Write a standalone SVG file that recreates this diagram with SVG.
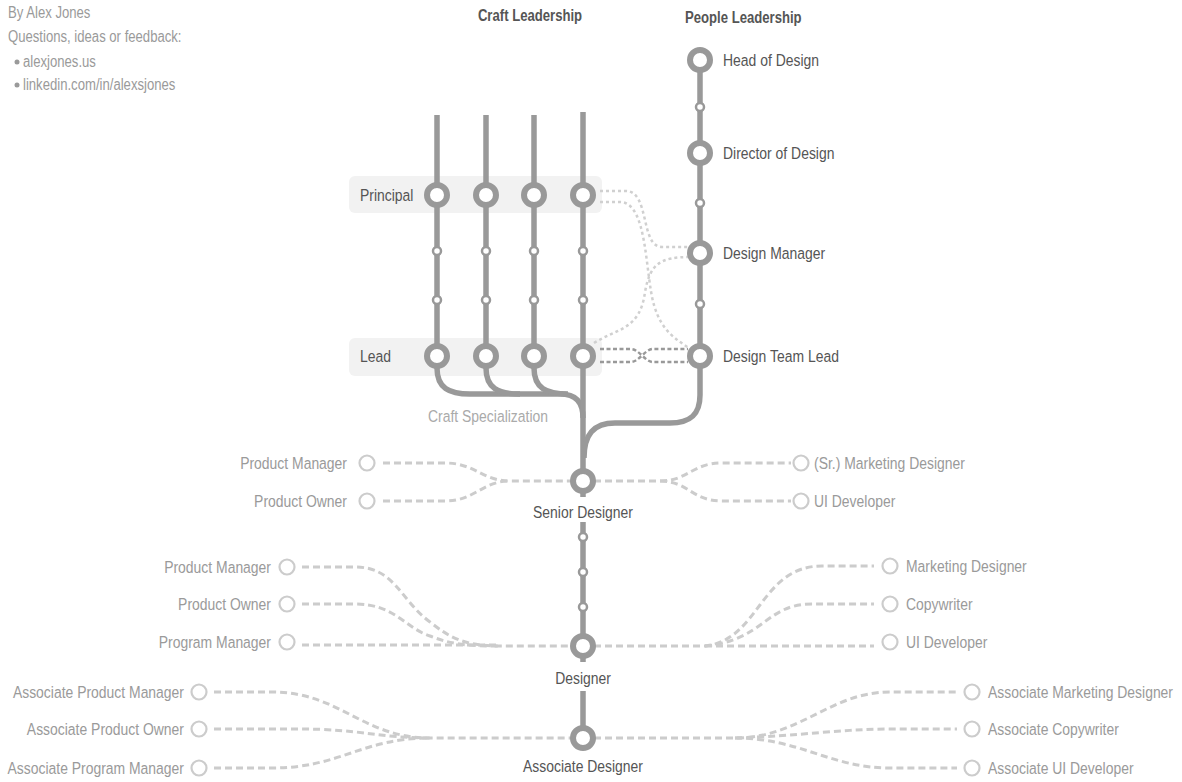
<svg xmlns="http://www.w3.org/2000/svg" width="1182" height="782" viewBox="0 0 1182 782">
  <style>
    text { font-family: "Liberation Sans", Arial, sans-serif; font-size: 17px; }
    .info { fill: #9a9a9a; font-size: 16px; }
    .head { fill: #555; font-weight: bold; font-size: 16px; }
    .lbl { fill: #555; }
    .side { fill: #9a9a9a; }
    .note { fill: #aaa; }
    .track { fill: none; stroke: #999; stroke-width: 5.5; }
    .stop { fill: #fff; stroke: #999; stroke-width: 6; }
    .tick { fill: #fff; stroke: #999; stroke-width: 2.5; }
    .alt { fill: #fff; stroke: #ccc; stroke-width: 2.2; }
    .band { fill: #f2f2f2; }
    .dash { fill: none; stroke: #ccc; stroke-width: 3; stroke-dasharray: 7 4; }
    .dot { fill: none; stroke: #d0d0d0; stroke-width: 2.5; stroke-dasharray: 3 3; }
    .dotdark { fill: none; stroke: #999; stroke-width: 2.5; stroke-dasharray: 4 2.5; }
  </style>

  <!-- credits (text is horizontally condensed with a matrix: x scale .82, then shift) -->
  <g id="credits">
    <text class="info" x="0" y="18" transform="matrix(.82 0 0 1 8 0)">By Alex Jones</text>
    <text class="info" x="0" y="42" transform="matrix(.82 0 0 1 8 0)">Questions, ideas or feedback:</text>
    <circle cx="17" cy="62" r="2.5" fill="#9a9a9a"/>
    <text class="info" x="0" y="67" transform="matrix(.82 0 0 1 23 0)">alexjones.us</text>
    <circle cx="17" cy="85" r="2.5" fill="#9a9a9a"/>
    <text class="info" x="0" y="90" transform="matrix(.82 0 0 1 23 0)">linkedin.com/in/alexsjones</text>
  </g>

  <g id="headers">
    <text class="head" x="0" y="21" text-anchor="middle" transform="matrix(.82 0 0 1 530 0)">Craft Leadership</text>
    <text class="head" x="0" y="23" transform="matrix(.82 0 0 1 685 0)">People Leadership</text>
  </g>

  <!-- row highlight bands -->
  <rect class="band" x="349" y="176" width="253" height="37" rx="6"/>
  <rect class="band" x="349" y="338" width="253" height="38" rx="6"/>

  <!-- connectors -->
  <g id="connectors">
    <!-- craft tracks -->
    <path class="track" d="M437,115 V356 V368 C437,388 449,394 470,394 H560 C576,394 583,402 583,418"/>
    <path class="track" d="M486,115 V368 C486,388 498,394 520,394"/>
    <path class="track" d="M534,115 V368 C534,388 546,394 568,394"/>
    <path class="track" d="M583,112 V497"/>
    <!-- people track -->
    <path class="track" d="M700,60 V395 C700,415 690,423 670,423 H615 C593,423 584,435 584,458"/>
    <!-- senior to designer -->
    <path class="track" d="M583,522 V662"/>
    <path class="track" d="M583,691 V738"/>

    <!-- craft / people transfers -->
    <path class="dot" d="M600,191 H626 C650,191 640,247 662,247 H689"/>
    <path class="dot" d="M600,202 H620 C648,202 645,275 654,305 C662,333 678,340 690,349"/>
    <path class="dot" d="M594,343 C618,328 640,330 645,292 C650,264 660,257 690,257"/>
    <path class="dotdark" d="M600,349 H631 C639,349 645,362 653,362 H688"/>
    <path class="dotdark" d="M600,362 H631 C639,362 645,349 653,349 H688"/>

    <!-- senior designer lateral -->
    <path class="dash" d="M383,463 H445 C475,463 482,481 510,481 H572"/>
    <path class="dash" d="M383,501 H445 C475,501 482,481 510,481"/>
    <path class="dash" d="M594,481 H660 C688,481 692,463 722,463 H791"/>
    <path class="dash" d="M660,481 C688,481 692,501 722,501 H791"/>

    <!-- designer lateral -->
    <path class="dash" d="M302,567 H355 C395,567 400,600 430,622 C450,638 465,646 500,646 H572"/>
    <path class="dash" d="M302,604 H355 C395,604 405,628 430,636 C450,644 465,646 500,646"/>
    <path class="dash" d="M302,645 H500"/>
    <path class="dash" d="M594,646 H705 C760,640 760,566 822,566 H874"/>
    <path class="dash" d="M705,646 C765,640 765,604 812,604 H874"/>
    <path class="dash" d="M705,646 H874"/>

    <!-- associate lateral -->
    <path class="dash" d="M214,692 H272 C340,692 362,738 430,738 H572"/>
    <path class="dash" d="M214,729 H300 C360,729 380,738 430,738"/>
    <path class="dash" d="M214,768 H272 C340,768 362,738 430,738"/>
    <path class="dash" d="M594,738 H735 C800,738 830,692 890,692 H957"/>
    <path class="dash" d="M735,738 C800,736 840,729 890,729 H957"/>
    <path class="dash" d="M735,738 C800,738 830,768 890,768 H957"/>
  </g>

  <!-- craft leadership ladder -->
  <g id="principal">
    <text class="lbl" x="0" y="201" transform="matrix(.82 0 0 1 360 0)">Principal</text>
    <circle class="stop" cx="437" cy="195" r="10"/>
    <circle class="stop" cx="486" cy="195" r="10"/>
    <circle class="stop" cx="534" cy="195" r="10"/>
    <circle class="stop" cx="583" cy="195" r="10"/>
  </g>
  <g id="craft-steps">
    <circle class="tick" cx="437" cy="251" r="4"/>
    <circle class="tick" cx="486" cy="251" r="4"/>
    <circle class="tick" cx="534" cy="251" r="4"/>
    <circle class="tick" cx="583" cy="251" r="4"/>
    <circle class="tick" cx="437" cy="300" r="4"/>
    <circle class="tick" cx="486" cy="300" r="4"/>
    <circle class="tick" cx="534" cy="300" r="4"/>
    <circle class="tick" cx="583" cy="300" r="4"/>
  </g>
  <g id="lead">
    <text class="lbl" x="0" y="362" transform="matrix(.82 0 0 1 360 0)">Lead</text>
    <circle class="stop" cx="437" cy="356" r="10"/>
    <circle class="stop" cx="486" cy="356" r="10"/>
    <circle class="stop" cx="534" cy="356" r="10"/>
    <circle class="stop" cx="583" cy="356" r="10"/>
  </g>
  <text class="note" x="0" y="422" transform="matrix(.82 0 0 1 428 0)">Craft Specialization</text>

  <!-- people leadership ladder -->
  <g id="head-of-design">
    <circle class="stop" cx="700" cy="60" r="10"/>
    <text class="lbl" x="0" y="66" transform="matrix(.82 0 0 1 723 0)">Head of Design</text>
  </g>
  <circle class="tick" cx="700" cy="107" r="4"/>
  <g id="director-of-design">
    <circle class="stop" cx="700" cy="153" r="10"/>
    <text class="lbl" x="0" y="159" transform="matrix(.82 0 0 1 723 0)">Director of Design</text>
  </g>
  <circle class="tick" cx="700" cy="203" r="4"/>
  <g id="design-manager">
    <circle class="stop" cx="700" cy="253" r="10"/>
    <text class="lbl" x="0" y="259" transform="matrix(.82 0 0 1 723 0)">Design Manager</text>
  </g>
  <circle class="tick" cx="700" cy="304" r="4"/>
  <g id="design-team-lead">
    <circle class="stop" cx="700" cy="356" r="10"/>
    <text class="lbl" x="0" y="362" transform="matrix(.82 0 0 1 723 0)">Design Team Lead</text>
  </g>

  <!-- senior designer -->
  <g id="senior-designer">
    <circle class="stop" cx="583" cy="481" r="10"/>
    <text class="lbl" x="0" y="518" text-anchor="middle" transform="matrix(.82 0 0 1 583 0)">Senior Designer</text>
  </g>
  <g id="senior-alternatives">
    <circle class="alt" cx="367" cy="463" r="7.5"/>
    <text class="side" x="0" y="469" text-anchor="end" transform="matrix(.82 0 0 1 347 0)">Product Manager</text>
    <circle class="alt" cx="367" cy="501" r="7.5"/>
    <text class="side" x="0" y="507" text-anchor="end" transform="matrix(.82 0 0 1 347 0)">Product Owner</text>
    <circle class="alt" cx="801" cy="463" r="7.5"/>
    <text class="side" x="0" y="469" transform="matrix(.82 0 0 1 814 0)">(Sr.) Marketing Designer</text>
    <circle class="alt" cx="801" cy="501" r="7.5"/>
    <text class="side" x="0" y="507" transform="matrix(.82 0 0 1 814 0)">UI Developer</text>
  </g>

  <g id="designer-steps">
    <circle class="tick" cx="583" cy="537" r="4"/>
    <circle class="tick" cx="583" cy="572" r="4"/>
    <circle class="tick" cx="583" cy="607" r="4"/>
  </g>

  <!-- designer -->
  <g id="designer">
    <circle class="stop" cx="583" cy="646" r="10"/>
    <text class="lbl" x="0" y="684" text-anchor="middle" transform="matrix(.82 0 0 1 583 0)">Designer</text>
  </g>
  <g id="designer-alternatives">
    <circle class="alt" cx="287" cy="567" r="7.5"/>
    <text class="side" x="0" y="573" text-anchor="end" transform="matrix(.82 0 0 1 271 0)">Product Manager</text>
    <circle class="alt" cx="287" cy="604" r="7.5"/>
    <text class="side" x="0" y="610" text-anchor="end" transform="matrix(.82 0 0 1 271 0)">Product Owner</text>
    <circle class="alt" cx="287" cy="642" r="7.5"/>
    <text class="side" x="0" y="648" text-anchor="end" transform="matrix(.82 0 0 1 271 0)">Program Manager</text>
    <circle class="alt" cx="890" cy="566" r="7.5"/>
    <text class="side" x="0" y="572" transform="matrix(.82 0 0 1 906 0)">Marketing Designer</text>
    <circle class="alt" cx="890" cy="604" r="7.5"/>
    <text class="side" x="0" y="610" transform="matrix(.82 0 0 1 906 0)">Copywriter</text>
    <circle class="alt" cx="890" cy="642" r="7.5"/>
    <text class="side" x="0" y="648" transform="matrix(.82 0 0 1 906 0)">UI Developer</text>
  </g>

  <!-- associate designer -->
  <g id="associate-designer">
    <circle class="stop" cx="583" cy="738" r="10"/>
    <text class="lbl" x="0" y="772" text-anchor="middle" transform="matrix(.82 0 0 1 583 0)">Associate Designer</text>
  </g>
  <g id="associate-alternatives">
    <circle class="alt" cx="199" cy="692" r="7.5"/>
    <text class="side" x="0" y="698" text-anchor="end" transform="matrix(.82 0 0 1 184 0)">Associate Product Manager</text>
    <circle class="alt" cx="199" cy="729" r="7.5"/>
    <text class="side" x="0" y="735" text-anchor="end" transform="matrix(.82 0 0 1 184 0)">Associate Product Owner</text>
    <circle class="alt" cx="199" cy="768" r="7.5"/>
    <text class="side" x="0" y="774" text-anchor="end" transform="matrix(.82 0 0 1 184 0)">Associate Program Manager</text>
    <circle class="alt" cx="972" cy="692" r="7.5"/>
    <text class="side" x="0" y="698" transform="matrix(.82 0 0 1 988 0)">Associate Marketing Designer</text>
    <circle class="alt" cx="972" cy="729" r="7.5"/>
    <text class="side" x="0" y="735" transform="matrix(.82 0 0 1 988 0)">Associate Copywriter</text>
    <circle class="alt" cx="972" cy="768" r="7.5"/>
    <text class="side" x="0" y="774" transform="matrix(.82 0 0 1 988 0)">Associate UI Developer</text>
  </g>
</svg>
